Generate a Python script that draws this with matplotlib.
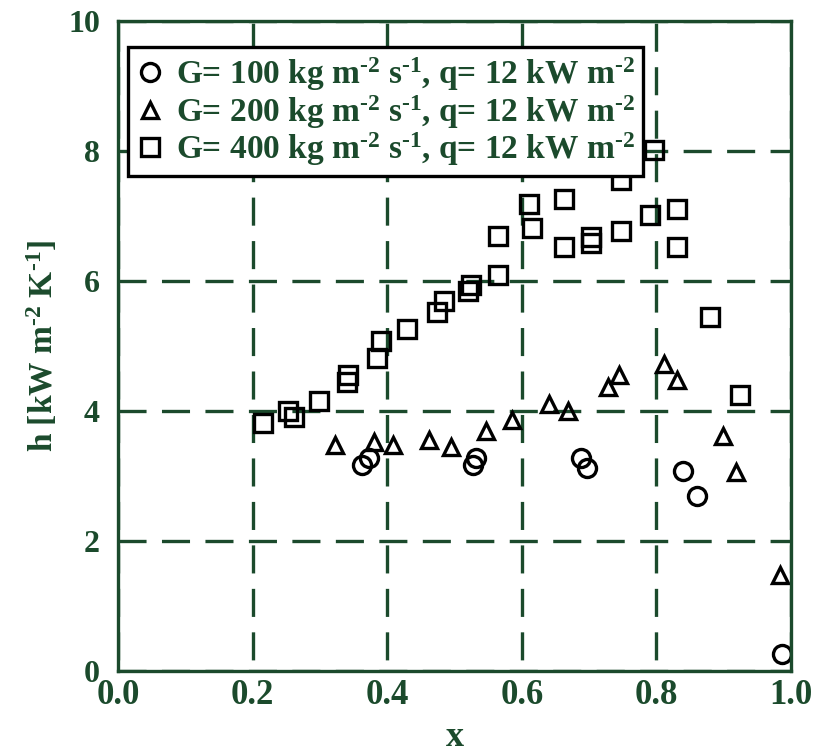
import matplotlib
matplotlib.use("Agg")
import matplotlib.pyplot as plt

# Vapour quality x and heat transfer coefficient h [kW m^-2 K^-1]
x_g100 = [0.362, 0.373, 0.528, 0.532, 0.688, 0.697, 0.840, 0.860, 0.987]
h_g100 = [3.17, 3.27, 3.17, 3.27, 3.27, 3.12, 3.08, 2.70, 0.26]

x_g200 = [0.322, 0.380, 0.408, 0.462, 0.495, 0.547, 0.585, 0.640, 0.669,
          0.728, 0.744, 0.812, 0.830, 0.899, 0.919, 0.984]
h_g200 = [3.48, 3.52, 3.48, 3.56, 3.44, 3.69, 3.86, 4.11, 4.00,
          4.37, 4.56, 4.73, 4.47, 3.61, 3.06, 1.48]

x_g400 = [0.215, 0.253, 0.261, 0.299, 0.340, 0.342, 0.385, 0.391, 0.430,
          0.474, 0.484, 0.520, 0.525, 0.565, 0.565, 0.610, 0.615, 0.662,
          0.662, 0.703, 0.703, 0.747, 0.747, 0.791, 0.796, 0.831, 0.831,
          0.879, 0.924]
h_g400 = [3.81, 4.00, 3.91, 4.15, 4.44, 4.56, 4.81, 5.08, 5.26,
          5.53, 5.69, 5.85, 5.94, 6.09, 6.70, 7.19, 6.81, 7.26,
          6.52, 6.59, 6.67, 7.56, 6.77, 7.02, 8.02, 7.11, 6.53,
          5.44, 4.24]

series_labels = [
    r"G= 100 kg m$^{\text{-}2}$ s$^{\text{-}1}$, q= 12 kW m$^{\text{-}2}$",
    r"G= 200 kg m$^{\text{-}2}$ s$^{\text{-}1}$, q= 12 kW m$^{\text{-}2}$",
    r"G= 400 kg m$^{\text{-}2}$ s$^{\text{-}1}$, q= 12 kW m$^{\text{-}2}$",
]
x_ticks = [0.0, 0.2, 0.4, 0.6, 0.8, 1.0]
x_tick_labels = ["0.0", "0.2", "0.4", "0.6", "0.8", "1.0"]
y_ticks = [0, 2, 4, 6, 8, 10]
y_tick_labels = ["0", "2", "4", "6", "8", "10"]

GREEN = "#1b4a2c"

plt.rcParams["font.family"] = ["Liberation Serif", "DejaVu Serif"]
plt.rcParams["font.weight"] = "bold"
plt.rcParams["axes.labelweight"] = "bold"
plt.rcParams["mathtext.fontset"] = "custom"
plt.rcParams["mathtext.rm"] = "Liberation Serif:bold"
plt.rcParams["mathtext.it"] = "Liberation Serif:bold"
plt.rcParams["mathtext.bf"] = "Liberation Serif:bold"
plt.rcParams["lines.scale_dashes"] = False

fig = plt.figure(figsize=(8.27, 7.54), dpi=100)
ax = fig.add_axes([118 / 827, 1 - 671 / 754, 673 / 827, 650 / 754])

ax.set_xlim(0, 1)
ax.set_ylim(0, 10)
ax.set_xticks(x_ticks)
ax.set_xticklabels(x_tick_labels)
ax.set_yticks(y_ticks)
ax.set_yticklabels(y_tick_labels)
ax.tick_params(axis="both", length=0, colors=GREEN)
ax.tick_params(axis="x", labelsize=25, pad=6)
ax.tick_params(axis="y", labelsize=23, pad=13)

for sp in ax.spines.values():
    sp.set_color(GREEN)
    sp.set_linewidth(2.4)

# dashed grid, phased so the dashes cross at the grid intersections
ax.xaxis.grid(True, color=GREEN, linewidth=2.4, linestyle=(23.3, (20.2, 11.1)))
ax.yaxis.grid(True, color=GREEN, linewidth=2.4, linestyle=(0.0, (20.2, 11.1)))
ax.set_axisbelow(True)

mk = dict(linestyle="none", markerfacecolor="none", markeredgecolor="black",
          markeredgewidth=2.4)
ax.plot(x_g100, h_g100, marker="o", markersize=13, label=series_labels[0], **mk)
ax.plot(x_g200, h_g200, marker="^", markersize=12, label=series_labels[1], **mk)
ax.plot(x_g400, h_g400, marker="s", markersize=13, label=series_labels[2], **mk)

ax.set_xlabel("x", fontsize=26, fontweight="bold", color=GREEN, labelpad=6)
ax.set_ylabel(r"h [kW m$^{\text{-}2}$ K$^{\text{-}1}$]", fontsize=24,
              fontweight="bold", color=GREEN, labelpad=6)

leg = ax.legend(loc="upper left", bbox_to_anchor=(0.0149, 0.96),
                borderaxespad=0, fontsize=24, frameon=True, fancybox=False,
                framealpha=1, edgecolor="black", labelspacing=0.0,
                handlelength=0.8, handletextpad=0.4, borderpad=0.25)
leg.get_frame().set_linewidth(2.4)
for t in leg.get_texts():
    t.set_color(GREEN)

fig.savefig("out.png", dpi=100)
